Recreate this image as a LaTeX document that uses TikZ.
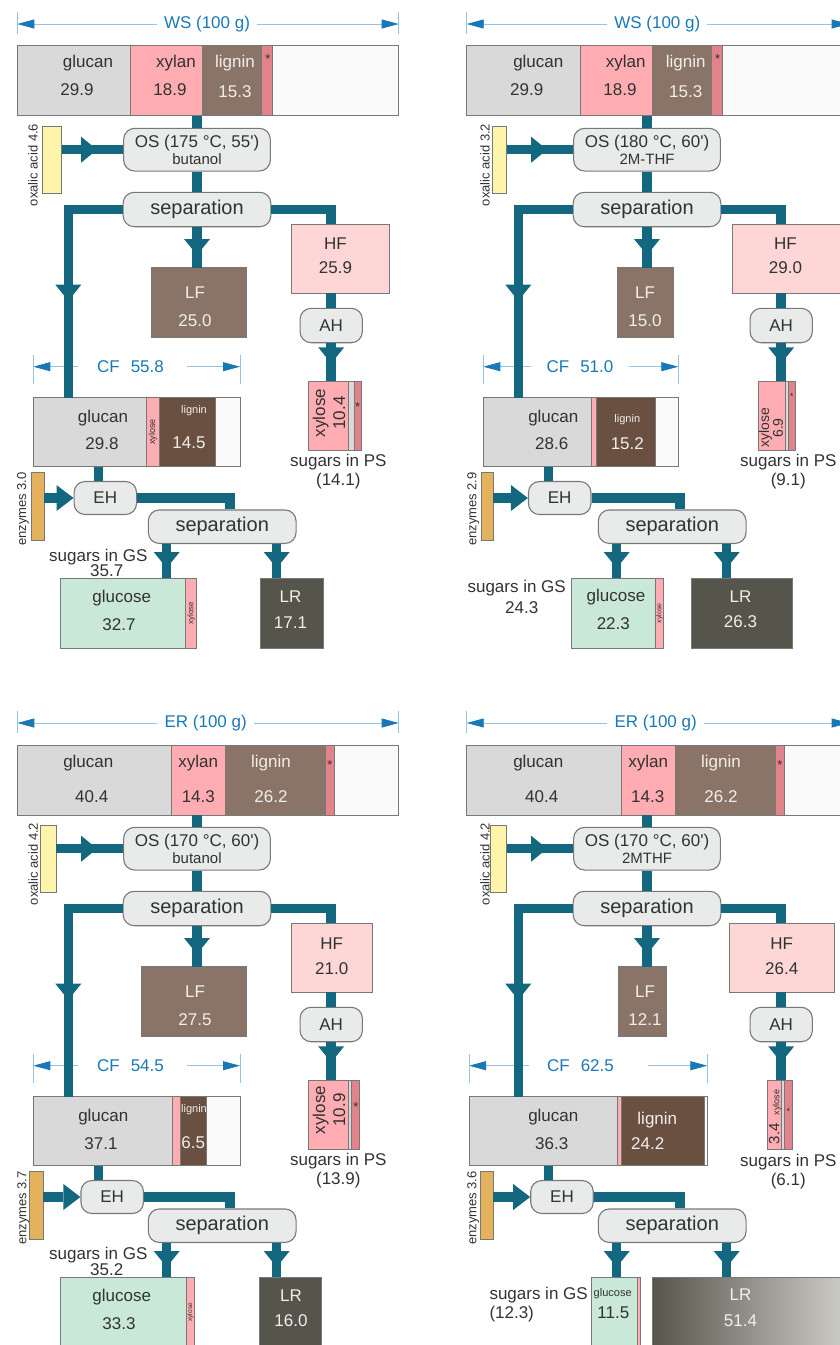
\documentclass[tikz,border=0pt]{standalone}
\usepackage{fontspec}
\setmainfont{Liberation Sans}
\usetikzlibrary{arrows.meta,decorations.markings}

\definecolor{flowc}{RGB}{19,104,128}
\definecolor{dimc}{RGB}{25,120,182}
\definecolor{dimlc}{RGB}{150,195,225}
\definecolor{edgec}{RGB}{120,120,120}
\definecolor{txtc}{RGB}{50,50,50}
\definecolor{lightc}{RGB}{242,238,234}
\definecolor{procc}{RGB}{233,235,235}
\definecolor{glcc}{RGB}{217,217,217}
\definecolor{xylc}{RGB}{255,172,178}
\definecolor{ligc}{RGB}{138,116,103}
\definecolor{dligc}{RGB}{106,80,64}
\definecolor{starc}{RGB}{226,130,138}
\definecolor{restc}{RGB}{250,250,250}
\definecolor{hfc}{RGB}{255,214,214}
\definecolor{lrc}{RGB}{86,85,75}
\definecolor{lrlight}{RGB}{208,208,202}
\definecolor{gluc}{RGB}{202,232,216}
\definecolor{oxc}{RGB}{255,245,170}
\definecolor{enzc}{RGB}{228,178,92}

\tikzset{
  seg/.style 2 args={rectangle,draw=edgec,line width=0.8pt,fill=#2,inner sep=0pt,outer sep=0pt,
    anchor=north west,minimum width=#1pt,minimum height=70pt},
  proc/.style={rectangle,rounded corners=11pt,draw=edgec,fill=procc,line width=1.1pt,
    inner sep=0pt,align=center,text=txtc,font=\fontsize{17}{17}\selectfont},
  lab/.style={inner sep=0pt,text=txtc,font=\fontsize{17}{19}\selectfont},
  wlab/.style={lab,text=lightc},
  side/.style={inner sep=0pt,rotate=90,text=txtc,font=\fontsize{13}{13}\selectfont},
  tinyrot/.style={inner sep=0pt,rotate=90,text=txtc,font=\fontsize{8}{8}\selectfont},
  dimlab/.style={inner sep=7pt,text=dimc,font=\fontsize{17}{17}\selectfont},
  dimln/.style={draw=dimlc,line width=0.8pt},
  dimarr/.style={dimln,-{Triangle[length=17pt,width=9pt,color=dimc]}},
  flow/.style={draw=flowc,line width=9.5pt},
  endtip/.style={-{Triangle[length=17pt,width=26pt,line width=0pt,color=flowc]}},
  midtip/.style={postaction={decorate,decoration={markings,
    mark=at position #1 with {\arrow{Triangle[length=16pt,width=26pt,line width=0pt,color=flowc]}}}}}
}

% process steps, same place in every panel
\newcommand\procboxes[3]{%
  \node[proc,minimum width=146.7pt,minimum height=42.7pt] (os) at (197,149.7)
    {OS (#1)\\{\fontsize{15}{15}\selectfont #2}};
  \node[proc,font=\fontsize{20}{20}\selectfont,minimum width=147.7pt,minimum height=34.4pt] (sep) at (197,209.5) {separation};
  \node[proc,minimum width=62.3pt,minimum height=34.4pt] (ah) at (331.2,325.5) {AH};
  \node[proc,minimum width=62.5pt,minimum height=33pt] (eh) at (#3,498) {EH};
  \node[proc,font=\fontsize{20}{20}\selectfont,minimum width=147.7pt,minimum height=33.5pt] (sep2) at (222.2,526.7) {separation};
}

% mass flows between the named boxes of one panel
\newcommand\flowlinks{%
  \coordinate (lb) at (68.3,0);
  \coordinate (ex) at (98.3,0);
  \coordinate (sx) at (230,0);
  \coordinate (gx) at (166.7,0);
  \coordinate (lx) at (276.7,0);
  \draw[flow] (feed.south -| os.north) -- (os.north);
  \draw[flow,midtip=-26pt] (os.west -| ox.east) -- (os.west);
  \draw[flow] (os.south) -- (sep.north);
  \draw[flow,midtip=-12.7pt] (sep.south) -- (sep.south |- lf.north);
  \draw[flow,midtip=-97pt] (sep.west) -| (lb |- c1.north);
  \draw[flow] (sep.east) -| (ah.north |- hf.north);
  \draw[flow] (ah.north |- hf.south) -- (ah.north);
  \draw[flow,midtip=-17.7pt] (ah.south) -- (ah.south |- p1.north);
  \draw[flow] (ex |- c1.south) -- (ex |- eh.north);
  \draw[flow,endtip] (eh.west -| enz.east) -- (eh.west);
  \draw[flow] (eh.east) -| (sx |- sep2.north);
  \draw[flow,midtip=-10.3pt] (gx |- sep2.south) -- (gx |- glc.north);
  \draw[flow,midtip=-10.3pt] (lx |- sep2.south) -- (lx |- lr.north);
}

\begin{document}
\begin{tikzpicture}[x=1pt,y=-1pt]
\useasboundingbox (0,0) rectangle (840,1345);
\clip (0,0) rectangle (840,1345);

% ---- wheat straw, butanol
\begin{scope}[name prefix=a-]
  \coordinate (wl) at (17.3,24);
  \coordinate (wr) at (398.7,24);
  \node[dimlab] (ws) at (207,24) {WS (100 g)};
  \draw[dimarr] (ws) -- (wl);
  \draw[dimarr] (ws) -- (wr);
  \draw[dimln] ([yshift=12pt]wl) -- ([yshift=-10pt]wl);
  \draw[dimln] ([yshift=12pt]wr) -- ([yshift=-10pt]wr);
  \node[seg={381.4}{restc}] (feed) at (17.3,45.7) {};
  \node[seg={112.7}{glcc}] (f1) at (17.3,45.7) {};
  \node[seg={72.3}{xylc}] (f2) at (f1.north east) {};
  \node[seg={59.4}{ligc}] (f3) at (f2.north east) {};
  \node[seg={11}{starc}] (f4) at (f3.north east) {};
  \node[lab] (f1a) at (88,63) {glucan};
  \node[lab] (f1b) at (77,90) {29.9};
  \node[lab] (f2a) at (176,63) {xylan};
  \node[lab] (f2b) at (170,90) {18.9};
  \node[wlab] (f3a) at (235,63) {lignin};
  \node[wlab] (f3b) at (235,92) {15.3};
  \node[lab,font=\fontsize{13}{13}\selectfont] (f4a) at (268,59) {*};
  \node[seg={19.4}{oxc},minimum height=67.3pt] (ox) at (42.3,126) {};
  \node[side] (oxa) at (33,165) {oxalic acid 4.6};
  \procboxes{175 °C, 55\textquotesingle}{butanol}{105.3}
  \node[seg={95.7}{ligc}] (lf) at (151,267.7) {};
  \node[wlab,align=center] (lfa) at (195,306.7) {LF\\[9pt]25.0};
  \node[seg={98.3}{hfc},minimum height=69.3pt] (hf) at (291,224) {};
  \node[lab,align=center] (hfa) at (335.5,256) {HF\\[5pt]25.9};
  \node[seg={40}{xylc},minimum height=69pt] (p1) at (308.3,381) {};
  \node[seg={5.7}{glcc},minimum height=69pt] (p2) at (p1.north east) {};
  \node[seg={7.7}{starc},minimum height=69pt] (p3) at (p2.north east) {};
  \node[lab,rotate=90,align=center,font=\fontsize{17}{20}\selectfont] (p1a) at (329,413) {xylose\\10.4};
  \node[lab,font=\fontsize{13}{13}\selectfont] (p3a) at (357.7,406.7) {*};
  \node[lab,align=center] (psa) at (338.3,471.7) {sugars in PS\\(14.1)};
  \coordinate (cl) at (33.3,366.7);
  \coordinate (cr) at (240,366.7);
  \node[dimlab,inner xsep=19pt] (cf) at (130.5,366.7) {CF\hspace{11pt}55.8};
  \draw[dimarr] (cf) -- (cl);
  \draw[dimarr] ([xshift=4pt]cf.east) -- (cr);
  \draw[dimln] ([yshift=12pt]cl) -- ([yshift=-17pt]cl);
  \draw[dimln] ([yshift=12pt]cr) -- ([yshift=-17pt]cr);
  \node[seg={206.7}{restc},minimum height=69pt] (cfb) at (33.3,397.7) {};
  \node[seg={113.4}{glcc},minimum height=69pt] (c1) at (33.3,397.7) {};
  \node[seg={12.3}{xylc},minimum height=69pt] (c2) at (c1.north east) {};
  \node[seg={56}{dligc},minimum height=69pt] (c3) at (c2.north east) {};
  \node[lab] (c1a) at (103,418) {glucan};
  \node[lab] (c1b) at (102,444) {29.8};
  \node[tinyrot,font=\fontsize{9}{9}\selectfont] (c2a) at (c2) {xylose};
  \node[wlab,font=\fontsize{11}{11}\selectfont] (c3a) at (194,411) {lignin};
  \node[wlab] (c3b) at (189,443) {14.5};
  \node[seg={12.6}{enzc},minimum height=68pt] (enz) at (31.7,472.7) {};
  \node[side] (enza) at (23,509) {enzymes 3.0};
  \node[seg={125.7}{gluc}] (glc) at (60,578.3) {};
  \node[seg={11}{xylc}] (g2) at (glc.north east) {};
  \node[lab] (glca) at (121.7,598.3) {glucose};
  \node[lab] (glcb) at (119,625) {32.7};
  \node[tinyrot] (g2a) at (g2) {xylose};
  \node[lab] (gsa) at (98.3,556.7) {sugars in GS};
  \node[lab] (gsb) at (106.7,570.7) {35.7};
  \node[seg={63.3}{lrc}] (lr) at (260,578.3) {};
  \node[wlab,align=center] (lra) at (290.5,609.5) {LR\\[6.5pt]17.1};
  \flowlinks
\end{scope}

% ---- wheat straw, 2M-THF
\begin{scope}[shift={(450,0)},name prefix=b-]
  \coordinate (wl) at (16.7,24);
  \coordinate (wr) at (398.7,24);
  \node[dimlab] (ws) at (207.3,24) {WS (100 g)};
  \draw[dimarr] (ws) -- (wl);
  \draw[dimarr] (ws) -- (wr);
  \draw[dimln] ([yshift=12pt]wl) -- ([yshift=-10pt]wl);
  \draw[dimln] ([yshift=12pt]wr) -- ([yshift=-10pt]wr);
  \node[seg={382}{restc}] (feed) at (16.7,45.7) {};
  \node[seg={113.3}{glcc}] (f1) at (16.7,45.7) {};
  \node[seg={72.3}{xylc}] (f2) at (f1.north east) {};
  \node[seg={59.4}{ligc}] (f3) at (f2.north east) {};
  \node[seg={11}{starc}] (f4) at (f3.north east) {};
  \node[lab] (f1a) at (88.3,63) {glucan};
  \node[lab] (f1b) at (76.7,90) {29.9};
  \node[lab] (f2a) at (175.7,63) {xylan};
  \node[lab] (f2b) at (170,90) {18.9};
  \node[wlab] (f3a) at (235.7,63) {lignin};
  \node[wlab] (f3b) at (235.7,92) {15.3};
  \node[lab,font=\fontsize{13}{13}\selectfont] (f4a) at (267.7,59) {*};
  \node[seg={14}{oxc},minimum height=67.3pt] (ox) at (42.7,126) {};
  \node[side] (oxa) at (35,165) {oxalic acid 3.2};
  \procboxes{180 °C, 60\textquotesingle}{2M-THF}{109.7}
  \node[seg={56}{ligc}] (lf) at (167.3,267.7) {};
  \node[wlab,align=center] (lfa) at (195,306.7) {LF\\[9pt]15.0};
  \node[seg={110.2}{hfc},minimum height=69.3pt] (hf) at (282.3,224) {};
  \node[lab,align=center] (hfa) at (335.5,256) {HF\\[5pt]29.0};
  \node[seg={26.7}{xylc},minimum height=69pt] (p1) at (308.3,381) {};
  \node[seg={3.3}{glcc},minimum height=69pt] (p2) at (p1.north east) {};
  \node[seg={6.7}{starc},minimum height=69pt] (p3) at (p2.north east) {};
  \node[lab,rotate=90,align=center,font=\fontsize{14}{10}\selectfont] (p1a) at (321,428) {xylose\\6.9};
  \node[lab,font=\fontsize{9}{9}\selectfont] (p3a) at (341.7,396.7) {*};
  \node[lab,align=center] (psa) at (338.3,471.7) {sugars in PS\\(9.1)};
  \coordinate (cl) at (33.3,366.7);
  \coordinate (cr) at (228.3,366.7);
  \node[dimlab,inner xsep=15pt] (cf) at (130,366.7) {CF\hspace{11pt}51.0};
  \draw[dimarr] (cf) -- (cl);
  \draw[dimarr] (cf) -- (cr);
  \draw[dimln] ([yshift=12pt]cl) -- ([yshift=-17pt]cl);
  \draw[dimln] ([yshift=12pt]cr) -- ([yshift=-17pt]cr);
  \node[seg={195}{restc},minimum height=69pt] (cfb) at (33.3,397.7) {};
  \node[seg={107.7}{glcc},minimum height=69pt] (c1) at (33.3,397.7) {};
  \node[seg={5.7}{xylc},minimum height=69pt] (c2) at (c1.north east) {};
  \node[seg={59}{dligc},minimum height=69pt] (c3) at (c2.north east) {};
  \node[lab] (c1a) at (103.3,418) {glucan};
  \node[lab] (c1b) at (101.7,443.7) {28.6};
  \node[wlab,font=\fontsize{11}{11}\selectfont] (c3a) at (177.3,419.3) {lignin};
  \node[wlab] (c3b) at (177.3,443.7) {15.2};
  \node[seg={11.6}{enzc},minimum height=68pt] (enz) at (31.7,472.7) {};
  \node[side] (enza) at (23.3,509) {enzymes 2.9};
  \node[seg={84.7}{gluc}] (glc) at (121,578.3) {};
  \node[seg={7.6}{xylc}] (g2) at (glc.north east) {};
  \node[lab] (glca) at (166,596.7) {glucose};
  \node[lab] (glcb) at (163.3,623.3) {22.3};
  \node[tinyrot,font=\fontsize{7}{7}\selectfont] (g2a) at (g2) {xylose};
  \node[lab] (gsa) at (66.7,588.3) {sugars in GS};
  \node[lab] (gsb) at (71.7,607.3) {24.3};
  \node[seg={100.6}{lrc}] (lr) at (241.7,578.3) {};
  \node[wlab,align=center] (lra) at (290.5,609.3) {LR\\[6.5pt]26.3};
  \flowlinks
\end{scope}

% ---- extraction residue, butanol
\begin{scope}[shift={(0,699)},name prefix=c-]
  \coordinate (wl) at (17.3,24);
  \coordinate (wr) at (398.7,24);
  \node[dimlab] (ws) at (205.7,24) {ER (100 g)};
  \draw[dimarr] (ws) -- (wl);
  \draw[dimarr] (ws) -- (wr);
  \draw[dimln] ([yshift=12pt]wl) -- ([yshift=-10pt]wl);
  \draw[dimln] ([yshift=12pt]wr) -- ([yshift=-10pt]wr);
  \node[seg={381.4}{restc}] (feed) at (17.3,46) {};
  \node[seg={154.4}{glcc}] (f1) at (17.3,46) {};
  \node[seg={54}{xylc}] (f2) at (f1.north east) {};
  \node[seg={100}{ligc}] (f3) at (f2.north east) {};
  \node[seg={8.6}{starc}] (f4) at (f3.north east) {};
  \node[lab] (f1a) at (88.3,63.7) {glucan};
  \node[lab] (f1b) at (91.7,97.7) {40.4};
  \node[lab] (f2a) at (198.3,63.7) {xylan};
  \node[lab] (f2b) at (198.3,97.7) {14.3};
  \node[wlab] (f3a) at (271,63.7) {lignin};
  \node[wlab] (f3b) at (271,97.7) {26.2};
  \node[lab,font=\fontsize{13}{13}\selectfont] (f4a) at (330,66) {*};
  \node[seg={16}{oxc},minimum height=67.3pt] (ox) at (40,126) {};
  \node[side] (oxa) at (33.3,165) {oxalic acid 4.2};
  \procboxes{170 °C, 60\textquotesingle}{butanol}{112.2}
  \node[seg={105.7}{ligc}] (lf) at (141,267.7) {};
  \node[wlab,align=center] (lfa) at (195,306.3) {LF\\[9pt]27.5};
  \node[seg={81.3}{hfc},minimum height=69.3pt] (hf) at (291,224) {};
  \node[lab,align=center] (hfa) at (331.7,257) {HF\\[6pt]21.0};
  \node[seg={40}{xylc},minimum height=69pt] (p1) at (308.3,381) {};
  \node[seg={3.4}{glcc},minimum height=69pt] (p2) at (p1.north east) {};
  \node[seg={7.6}{starc},minimum height=69pt] (p3) at (p2.north east) {};
  \node[lab,rotate=90,align=center,font=\fontsize{17}{20}\selectfont] (p1a) at (329,411) {xylose\\10.9};
  \node[lab,font=\fontsize{13}{13}\selectfont] (p3a) at (356,407.7) {*};
  \node[lab,align=center] (psa) at (338.3,471.5) {sugars in PS\\(13.9)};
  \coordinate (cl) at (33.3,366.7);
  \coordinate (cr) at (240,366.7);
  \node[dimlab,inner xsep=19pt] (cf) at (130.5,366.7) {CF\hspace{11pt}54.5};
  \draw[dimarr] (cf) -- (cl);
  \draw[dimarr] ([xshift=4pt]cf.east) -- (cr);
  \draw[dimln] ([yshift=12pt]cl) -- ([yshift=-17pt]cl);
  \draw[dimln] ([yshift=12pt]cr) -- ([yshift=-17pt]cr);
  \node[seg={206.7}{restc},minimum height=69pt] (cfb) at (33.3,397.7) {};
  \node[seg={139.4}{glcc},minimum height=69pt] (c1) at (33.3,397.7) {};
  \node[seg={7.3}{xylc},minimum height=69pt] (c2) at (c1.north east) {};
  \node[seg={26.7}{dligc},minimum height=69pt] (c3) at (c2.north east) {};
  \node[lab] (c1a) at (103.3,418.3) {glucan};
  \node[lab] (c1b) at (101,444.3) {37.1};
  \node[wlab,font=\fontsize{11}{11}\selectfont] (c3a) at (194,411) {lignin};
  \node[wlab] (c3b) at (193.3,443.7) {6.5};
  \node[seg={14}{enzc},minimum height=68pt] (enz) at (29.3,472.7) {};
  \node[side] (enza) at (23.3,509) {enzymes 3.7};
  \node[seg={126.7}{gluc}] (glc) at (60,578.3) {};
  \node[seg={7.6}{xylc}] (g2) at (glc.north east) {};
  \node[lab] (glca) at (121.7,597.7) {glucose};
  \node[lab] (glcb) at (119,625) {33.3};
  \node[tinyrot,font=\fontsize{6.5}{6.5}\selectfont] (g2a) at (g2) {xylose};
  \node[lab] (gsa) at (98.3,556) {sugars in GS};
  \node[lab] (gsb) at (106.7,570.3) {35.2};
  \node[seg={62.4}{lrc}] (lr) at (259.3,578.3) {};
  \node[wlab,align=center] (lra) at (291,609) {LR\\[6.5pt]16.0};
  \flowlinks
\end{scope}

% ---- extraction residue, 2MTHF
\begin{scope}[shift={(450,699)},name prefix=d-]
  \coordinate (wl) at (16.7,24);
  \coordinate (wr) at (398.7,24);
  \node[dimlab] (ws) at (205.7,24) {ER (100 g)};
  \draw[dimarr] (ws) -- (wl);
  \draw[dimarr] (ws) -- (wr);
  \draw[dimln] ([yshift=12pt]wl) -- ([yshift=-10pt]wl);
  \draw[dimln] ([yshift=12pt]wr) -- ([yshift=-10pt]wr);
  \node[seg={382}{restc}] (feed) at (16.7,46) {};
  \node[seg={155}{glcc}] (f1) at (16.7,46) {};
  \node[seg={54}{xylc}] (f2) at (f1.north east) {};
  \node[seg={100}{ligc}] (f3) at (f2.north east) {};
  \node[seg={8.6}{starc}] (f4) at (f3.north east) {};
  \node[lab] (f1a) at (88.3,63.7) {glucan};
  \node[lab] (f1b) at (91.7,97.7) {40.4};
  \node[lab] (f2a) at (198.3,63.7) {xylan};
  \node[lab] (f2b) at (197.7,97.7) {14.3};
  \node[wlab] (f3a) at (271,63.7) {lignin};
  \node[wlab] (f3b) at (271,97.7) {26.2};
  \node[lab,font=\fontsize{13}{13}\selectfont] (f4a) at (330,66) {*};
  \node[seg={16.7}{oxc},minimum height=67.3pt] (ox) at (40,126) {};
  \node[side] (oxa) at (35,165) {oxalic acid 4.2};
  \procboxes{170 °C, 60\textquotesingle}{2MTHF}{112}
  \node[seg={47.7}{ligc}] (lf) at (168.3,267.7) {};
  \node[wlab,align=center] (lfa) at (195,306.8) {LF\\[9pt]12.1};
  \node[seg={104.7}{hfc},minimum height=69.3pt] (hf) at (279.3,224) {};
  \node[lab,align=center] (hfa) at (331.7,257) {HF\\[6pt]26.4};
  \node[seg={14}{xylc},minimum height=69pt] (p1) at (317.7,381) {};
  \node[seg={2.3}{glcc},minimum height=69pt] (p2) at (p1.north east) {};
  \node[seg={8.3}{starc},minimum height=69pt] (p3) at (p2.north east) {};
  \node[lab,rotate=90,font=\fontsize{15}{15}\selectfont] (p1a) at (325,418)
    {3.4\hspace{8pt}{\fontsize{9}{9}\selectfont xylose}};
  \node[lab,font=\fontsize{9}{9}\selectfont] (p3a) at (338.3,412.7) {*};
  \node[lab,align=center] (psa) at (338.3,472.3) {sugars in PS\\(6.1)};
  \coordinate (cl) at (19,366.7);
  \coordinate (cr) at (257.3,366.7);
  \node[dimlab,inner xsep=18pt] (cf) at (130.5,366.7) {CF\hspace{11pt}62.5};
  \draw[dimarr] (cf) -- (cl);
  \draw[dimarr] ([xshift=16pt]cf.east) -- (cr);
  \draw[dimln] ([yshift=12pt]cl) -- ([yshift=-17pt]cl);
  \draw[dimln] ([yshift=12pt]cr) -- ([yshift=-17pt]cr);
  \node[seg={238.3}{restc},minimum height=69pt] (cfb) at (19,397.7) {};
  \node[seg={148.7}{glcc},minimum height=69pt] (c1) at (19,397.7) {};
  \node[seg={3.3}{xylc},minimum height=69pt] (c2) at (c1.north east) {};
  \node[seg={83.3}{dligc},minimum height=69pt] (c3) at (c2.north east) {};
  \node[lab] (c1a) at (103.3,418.3) {glucan};
  \node[lab] (c1b) at (101.7,444.3) {36.3};
  \node[wlab] (c3a) at (207.3,421) {lignin};
  \node[wlab] (c3b) at (197.7,444.3) {24.2};
  \node[seg={13.3}{enzc},minimum height=68pt] (enz) at (30,472.7) {};
  \node[side] (enza) at (23.3,509) {enzymes 3.6};
  \node[seg={45.6}{gluc}] (glc) at (141.7,578.3) {};
  \node[seg={2.7}{xylc}] (g2) at (glc.north east) {};
  \node[lab,font=\fontsize{11}{11}\selectfont] (glca) at (162.7,594.3) {glucose};
  \node[lab] (glcb) at (163.3,613.3) {11.5};
  \node[lab,align=left,anchor=west] (gsa) at (39.3,605.2) {sugars in GS\\(12.3)};
  \node[seg={197.7}{lrc},left color=lrc,right color=lrlight] (lr) at (202.3,578.3) {};
  \node[wlab,align=center] (lra) at (290.5,608.9) {LR\\[6.5pt]51.4};
  \flowlinks
\end{scope}
\end{tikzpicture}
\end{document}
